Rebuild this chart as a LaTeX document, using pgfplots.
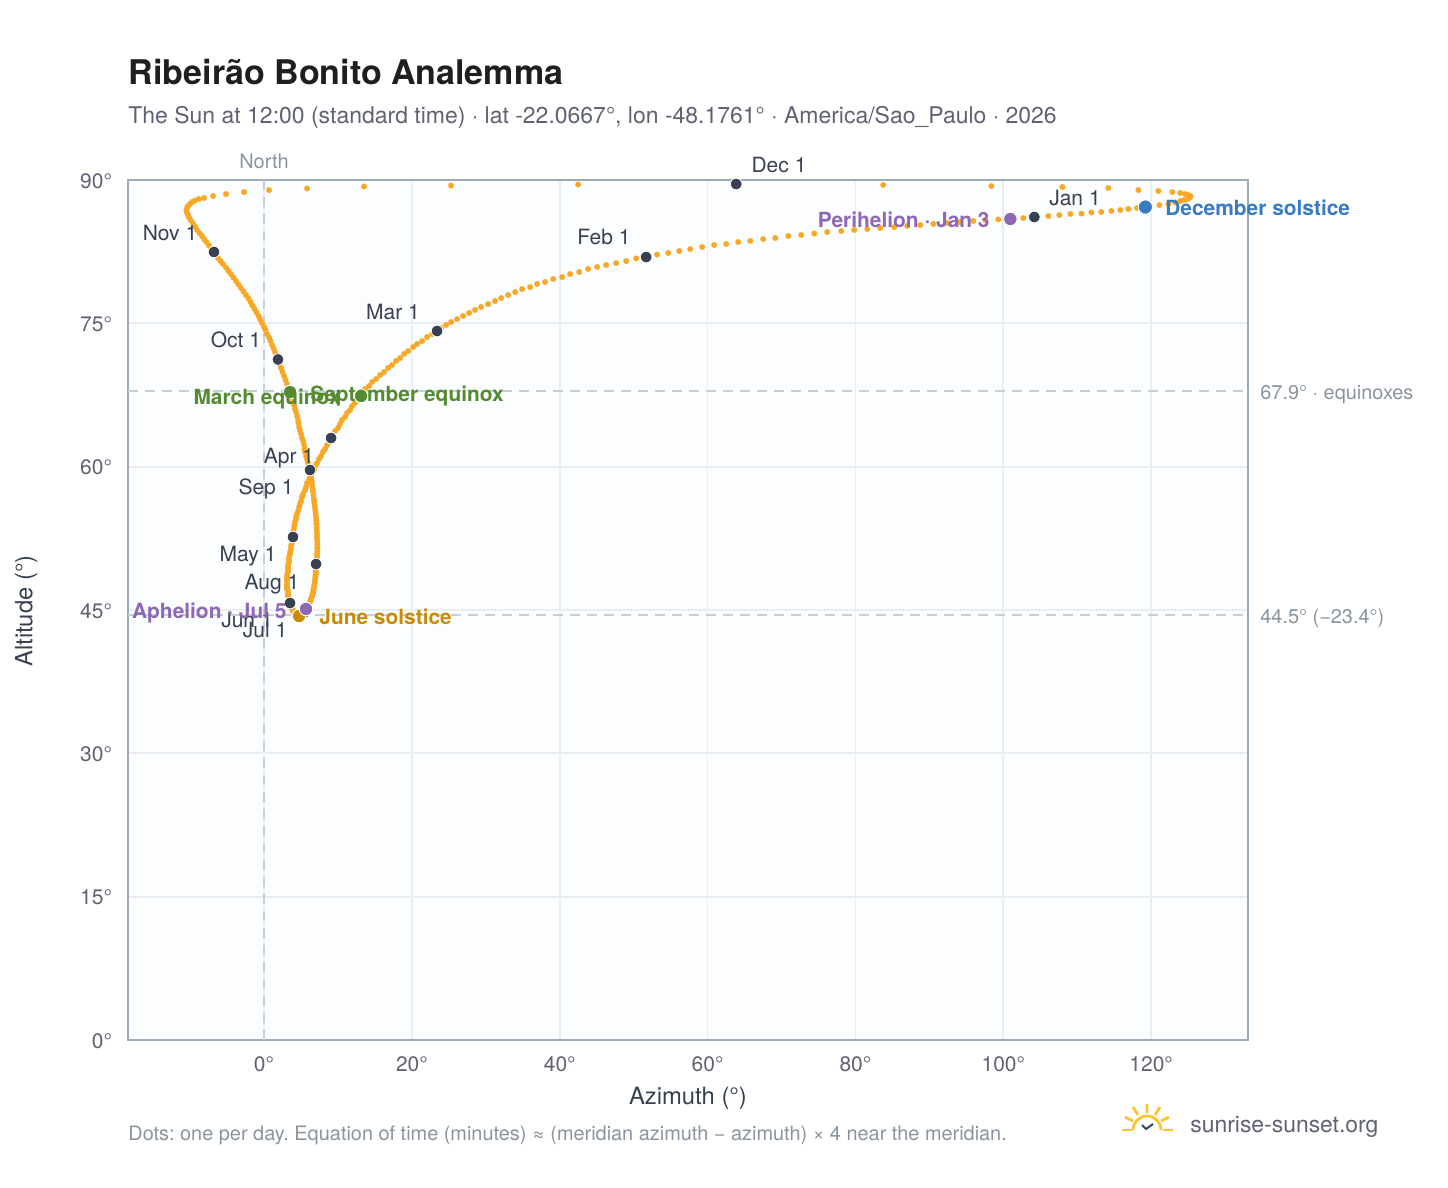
\documentclass[border=0pt]{standalone}
\usepackage{pgfplots}
\pgfplotsset{compat=1.18}
\usepackage{fontspec}
\setmainfont{TeX Gyre Heros}
\frenchspacing
\definecolor{sunorange}{HTML}{F9A825}
\definecolor{monthdark}{HTML}{374151}
\definecolor{eqgreen}{HTML}{558B2F}
\definecolor{solgold}{HTML}{CA8A04}
\definecolor{solblue}{HTML}{3A7ABF}
\definecolor{apsis}{HTML}{8E67B5}
\definecolor{gridc}{HTML}{E9EEF3}
\definecolor{framec}{HTML}{9DAAB7}
\definecolor{dashc}{HTML}{C3D0DA}
\definecolor{tickc}{HTML}{5F6272}
\definecolor{notec}{HTML}{8A949E}
\definecolor{logoy}{HTML}{FBC531}
\definecolor{logob}{HTML}{2C4A6E}
\definecolor{plotbg}{HTML}{FBFDFE}
\begin{document}
\begin{tikzpicture}
\begin{axis}[
  at={(64pt,-520pt)}, anchor=south west,
  scale only axis, width=560pt, height=430pt,
  xmin=-18.4, xmax=133.1, ymin=0, ymax=90,
  clip=false,
  axis background/.style={fill=plotbg},
  axis line style={draw=framec,line width=1.1pt},
  xtick={0,20,40,60,80,100,120}, ytick={0,15,30,45,60,75,90},
  major tick length=0pt, grid=major,
  grid style={draw=gridc,line width=0.9pt},
  /pgf/number format/assume math mode=true,
  xticklabel={\pgfmathprintnumber{\tick}°},
  yticklabel={\pgfmathprintnumber{\tick}°},
  tick label style={font=\fontsize{10.5}{12}\selectfont,text=tickc},
  xticklabel style={yshift=-5pt},
  yticklabel style={xshift=-4.5pt,yshift=-0.5pt},
]
\addplot[dashc,line width=0.8pt,dash pattern=on 5pt off 3.5pt,forget plot] coordinates {(0,0) (0,90)};
\addplot[dashc,line width=0.8pt,dash pattern=on 5pt off 3.5pt,forget plot] coordinates {(-18.4,67.9) (133.1,67.9)};
\addplot[dashc,line width=0.8pt,dash pattern=on 5pt off 3.5pt,forget plot] coordinates {(-18.4,44.5) (133.1,44.5)};
% one dot per day
\addplot[only marks,sunorange,mark=*,mark size=1.4pt,mark options={draw=sunorange,fill=sunorange,line width=0.1pt}] coordinates {
% Jan
(104.2,86.13)(102.71,86.02)(100.95,85.92)(99.33,85.87)(97.57,85.81)(95.94,85.71)(94.05,85.60)(92.42,85.50)(90.53,85.40)(88.77,85.29)
(87.01,85.19)(85.25,85.08)(83.36,84.98)(81.60,84.87)(79.84,84.77)(78.08,84.66)(76.19,84.56)(74.43,84.40)(72.67,84.24)(70.91,84.14)
(69.15,83.93)(67.52,83.83)(65.77,83.62)(64.14,83.51)(62.52,83.30)(60.89,83.20)(59.27,82.99)(57.65,82.78)(56.16,82.57)(54.67,82.36)(53.18,82.20)
% Feb
(51.69,81.94)(50.34,81.79)(48.99,81.52)(47.63,81.31)(46.28,81.10)(45.06,80.90)(43.84,80.69)(42.63,80.37)(41.41,80.16)(40.33,79.85)
(39.11,79.64)(38.02,79.33)(36.94,79.12)(36.00,78.80)(34.91,78.59)(33.97,78.28)(33.02,77.97)(32.07,77.65)(31.26,77.34)(30.31,77.02)
(29.36,76.71)(28.55,76.40)(27.74,76.08)(26.93,75.77)(26.12,75.45)(25.30,75.14)(24.63,74.83)(23.95,74.51)
% Mar
(23.41,74.20)(22.73,73.88)(22.06,73.57)(21.38,73.15)(20.70,72.84)(20.16,72.52)(19.49,72.10)(18.94,71.79)(18.40,71.37)(17.86,71.06)
(17.32,70.64)(16.78,70.33)(16.24,69.91)(15.70,69.59)(15.16,69.17)(14.61,68.86)(14.21,68.44)(13.67,68.13)(13.40,67.71)(13.13,67.40)
(12.72,67.03)(12.31,66.66)(11.91,66.35)(11.64,65.93)(11.23,65.62)(10.96,65.20)(10.55,64.88)(10.28,64.47)(10.01,64.05)(9.61,63.73)(9.34,63.31)
% Apr
(9.07,63.00)(8.80,62.58)(8.53,62.27)(8.25,61.85)(7.98,61.54)(7.71,61.12)(7.44,60.80)(7.17,60.38)(6.90,60.07)(6.77,59.65)
(6.50,59.34)(6.22,58.92)(6.09,58.60)(5.82,58.29)(5.68,57.87)(5.55,57.56)(5.28,57.14)(5.14,56.83)(5.01,56.41)(4.87,56.09)
(4.74,55.78)(4.60,55.36)(4.47,55.05)(4.33,54.79)(4.33,54.47)(4.19,54.21)(4.13,53.90)(4.06,53.58)(3.99,53.27)(3.92,52.95)
% May
(3.92,52.64)(3.79,52.33)(3.79,52.01)(3.65,51.70)(3.65,51.38)(3.52,51.07)(3.52,50.86)(3.38,50.55)(3.38,50.23)(3.38,50.02)
(3.25,49.71)(3.25,49.40)(3.25,49.19)(3.25,48.98)(3.11,48.66)(3.11,48.45)(3.11,48.24)(3.11,48.03)(3.11,47.72)(3.11,47.51)
(3.11,47.30)(3.11,47.20)(3.25,46.99)(3.25,46.78)(3.25,46.57)(3.25,46.47)(3.38,46.26)(3.38,46.15)(3.38,46.05)(3.52,45.94)(3.52,45.84)
% Jun
(3.52,45.73)(3.65,45.63)(3.65,45.52)(3.65,45.42)(3.79,45.31)(3.79,45.21)(3.79,45.11)(3.92,45.00)(3.92,44.90)(4.06,44.79)
(4.06,44.74)(4.19,44.69)(4.19,44.58)(4.33,44.53)(4.33,44.48)(4.47,44.48)(4.47,44.42)(4.60,44.37)(4.60,44.37)(4.67,44.37)
(4.74,44.37)(4.80,44.37)(4.87,44.37)(5.01,44.37)(5.14,44.42)(5.28,44.48)(5.28,44.53)(5.41,44.58)(5.41,44.64)(5.55,44.69)
% Jul
(5.55,44.79)(5.62,44.90)(5.68,44.95)(5.68,45.00)(5.68,45.11)(5.82,45.16)(5.89,45.26)(5.95,45.37)(6.02,45.47)(6.09,45.58)
(6.16,45.73)(6.22,45.84)(6.29,45.99)(6.36,46.15)(6.43,46.31)(6.50,46.47)(6.56,46.68)(6.63,46.83)(6.67,47.04)(6.71,47.20)
(6.77,47.41)(6.81,47.62)(6.85,47.83)(6.89,48.03)(6.93,48.30)(6.96,48.51)(6.98,48.72)(7.01,48.93)(7.02,49.13)(7.04,49.34)(7.04,49.60)
% Aug
(7.04,49.81)(7.10,50.08)(7.17,50.34)(7.17,50.65)(7.17,50.91)(7.21,51.17)(7.21,51.49)(7.21,51.80)(7.21,52.12)(7.17,52.43)
(7.17,52.74)(7.17,53.06)(7.14,53.37)(7.12,53.69)(7.09,54.00)(7.06,54.31)(7.04,54.63)(7.00,54.94)(6.96,55.26)(6.90,55.62)
(6.85,55.94)(6.79,56.30)(6.74,56.62)(6.68,56.98)(6.63,57.35)(6.58,57.66)(6.52,58.03)(6.47,58.40)(6.40,58.76)(6.36,59.13)(6.29,59.39)
% Sep
(6.22,59.65)(6.09,60.02)(5.95,60.38)(5.82,60.75)(5.68,61.12)(5.55,61.54)(5.48,61.85)(5.41,62.27)(5.28,62.69)(5.14,63.00)
(5.01,63.42)(4.87,63.79)(4.74,64.15)(4.67,64.57)(4.60,64.88)(4.47,65.30)(4.33,65.72)(4.19,66.04)(4.06,66.45)(3.92,66.77)
(3.79,67.13)(3.65,67.50)(3.52,67.81)(3.32,68.23)(3.11,68.65)(2.91,69.07)(2.71,69.49)(2.50,69.91)(2.30,70.33)(2.10,70.74)
% Oct
(1.89,71.22)(1.69,71.63)(1.49,72.00)(1.29,72.37)(1.08,72.73)(0.88,73.15)(0.68,73.52)(0.41,73.88)(0.20,74.30)(0.00,74.62)
(-0.27,75.03)(-0.54,75.40)(-0.74,75.77)(-1.01,76.13)(-1.29,76.50)(-1.56,76.87)(-1.83,77.23)(-2.10,77.60)(-2.44,77.97)(-2.77,78.33)
(-3.11,78.70)(-3.45,79.06)(-3.79,79.43)(-4.13,79.80)(-4.47,80.16)(-4.80,80.48)(-5.14,80.84)(-5.55,81.21)(-5.89,81.52)(-6.22,81.84)(-6.50,82.15)
% Nov
(-6.77,82.47)(-7.17,82.83)(-7.44,83.15)(-7.78,83.51)(-8.12,83.83)(-8.39,84.14)(-8.73,84.45)(-9.07,84.77)(-9.34,85.13)(-9.61,85.45)
(-9.88,85.76)(-10.15,86.08)(-10.28,86.34)(-10.42,86.60)(-10.49,86.81)(-10.42,87.07)(-10.28,87.28)(-10.01,87.49)(-9.74,87.70)(-9.34,87.85)
(-8.80,88.01)(-8.12,88.12)(-6.90,88.33)(-5.14,88.53)(-2.71,88.74)(0.68,88.95)(5.82,89.11)(13.53,89.32)(25.30,89.42)(42.49,89.53)
% Dec
(63.87,89.58)(83.76,89.48)(98.38,89.37)(107.99,89.27)(114.21,89.16)(118.27,88.95)(120.98,88.85)(122.87,88.74)(123.95,88.64)(124.63,88.53)
(125.04,88.43)(125.31,88.33)(125.31,88.22)(125.17,88.12)(124.90,88.01)(124.49,87.91)(123.95,87.80)(123.28,87.65)(122.33,87.49)(121.11,87.38)
(119.22,87.17)(118.09,87.07)(116.92,86.97)(115.83,86.86)(114.62,86.76)(113.26,86.65)(111.91,86.60)(110.56,86.49)(109.07,86.44)(107.58,86.34)(106.09,86.23)
};
% first of each month
\addplot[only marks,mark=*,mark size=2.9pt,mark options={draw=white,line width=0.4pt,fill=monthdark}] coordinates {
(104.2,86.13)(51.69,81.94)(23.41,74.20)(9.07,63.00)(3.92,52.64)(3.52,45.73)(5.55,44.79)(7.04,49.81)(6.22,59.65)(1.89,71.22)(-6.77,82.47)(63.87,89.58)};
% equinoxes, solstices, apsides
\addplot[only marks,mark=*,mark size=3.4pt,mark options={draw=white,line width=0.5pt,fill=eqgreen}] coordinates {(13.13,67.40)(3.52,67.81)};
\addplot[only marks,mark=*,mark size=3.4pt,mark options={draw=white,line width=0.5pt,fill=solgold}] coordinates {(4.74,44.37)};
\addplot[only marks,mark=*,mark size=3.6pt,mark options={draw=white,line width=0.5pt,fill=solblue}] coordinates {(119.22,87.17)};
\addplot[only marks,mark=*,mark size=3.4pt,mark options={draw=white,line width=0.5pt,fill=apsis}] coordinates {(100.95,85.92)(5.68,45.11)};
\end{axis}
\begin{scope}[x=0.5pt,y=-0.5pt,
  every node/.style={inner sep=0pt,text height=7.4pt,text depth=2pt,yshift=-1pt},
  mon/.style={font=\fontsize{10.5}{12}\selectfont,text=monthdark},
  ev/.style={font=\fontsize{10.45}{12}\selectfont\bfseries},
  note/.style={font=\fontsize{9.95}{12}\selectfont,text=notec}]
\path[use as bounding box] (0,0) rectangle (1448,1188);
\node[anchor=west,font=\fontsize{17}{20}\selectfont\bfseries,text=black!88,text height=12pt,text depth=3.5pt] at (128.5,74) {Ribeirão Bonito Analemma};
\node[anchor=west,font=\fontsize{11.49}{13}\selectfont,text=tickc] at (128,116) {The Sun at 12:00 (standard time) · lat -22.0667°, lon -48.1761° · America/Sao\_Paulo · 2026};
\node[note,font=\fontsize{10}{11}\selectfont] at (264,161) {North};
\node[note,anchor=west] at (1260,392) {67.9° · equinoxes};
\node[note,anchor=west] at (1260,616) {44.5° (−23.4°)};
\node[font=\fontsize{11.9}{13}\selectfont,text=monthdark] at (688,1097) {Azimuth (°)};
\node[font=\fontsize{11.9}{13}\selectfont,text=monthdark,rotate=90,xshift=-1pt,yshift=1pt] at (29,607) {Altitude (°)};
\node[note,anchor=west] at (128,1133) {Dots: one per day. Equation of time (minutes) ≈ (meridian azimuth − azimuth) × 4 near the meridian.};
% month labels
\node[mon] at (1075,198) {Jan 1};
\node[mon] at (604,237) {Feb 1};
\node[mon] at (393,312) {Mar 1};
\node[mon] at (289,456) {Apr 1};
\node[mon] at (248,554) {May 1};
\node[mon] at (247,620) {Jun 1};
\node[mon] at (265,630) {Jul 1};
\node[mon] at (272,582) {Aug 1};
\node[mon] at (266,487) {Sep 1};
\node[mon] at (236,340) {Oct 1};
\node[mon] at (170,233) {Nov 1};
\node[mon] at (779,165) {Dec 1};
% events
\node[ev,text=eqgreen,anchor=east] at (341,397) {March equinox};
\node[ev,text=eqgreen,anchor=west] at (310,394) {September equinox};
\node[ev,text=solgold,anchor=west] at (319,617) {June solstice};
\node[ev,text=solblue,anchor=west] at (1165,208) {December solstice};
\node[ev,text=apsis,anchor=east] at (990,220) {Perihelion · Jan 3};
\node[ev,text=apsis,anchor=east] at (287,611) {Aphelion · Jul 5};
% logo
\node[anchor=west,font=\fontsize{11.45}{14}\selectfont,text=tickc] at (1190,1125) {sunrise-sunset.org};
\draw[logoy,line width=1.4pt] (1122,1130)--(1132,1130) (1163,1130)--(1173,1130);
\draw[logoy,line width=1.4pt] (1133,1130) arc[start angle=180,end angle=360,radius=14];
\draw[logoy,line width=1.4pt] (1147,1104)--(1147,1113) (1160,1107)--(1155,1115) (1133,1107)--(1138,1115) (1125,1117)--(1133,1121) (1169,1117)--(1161,1121);
\draw[logob,line width=1pt] (1142,1125)--(1146,1129)--(1153,1124);
\end{scope}
\end{tikzpicture}
\end{document}
